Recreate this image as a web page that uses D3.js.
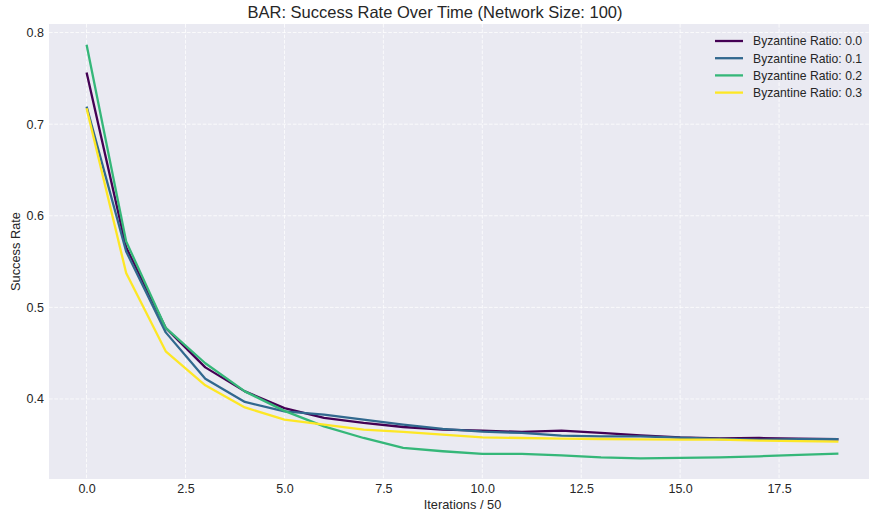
<!DOCTYPE html>
<html>
<head>
<meta charset="utf-8">
<script src="https://cdn.jsdelivr.net/npm/d3@7"></script>
<style>
  html, body { margin: 0; padding: 0; background: #ffffff; }
  svg { display: block; font-family: "Liberation Sans", Arial, sans-serif; }
</style>
</head>
<body>
<svg id="chart" width="869" height="512"></svg>
<script>
const iterations = d3.range(0, 20);
const seriesNames = ["Byzantine Ratio: 0.0", "Byzantine Ratio: 0.1", "Byzantine Ratio: 0.2", "Byzantine Ratio: 0.3"];
const ratio00 = [0.7563, 0.5655, 0.4775, 0.4345, 0.4083, 0.3900, 0.3793, 0.3738, 0.3694, 0.3665, 0.3654, 0.3640, 0.3654, 0.3629, 0.3603, 0.3581, 0.3570, 0.3574, 0.3567, 0.3560];
const ratio01 = [0.7192, 0.5610, 0.4727, 0.4220, 0.3967, 0.3865, 0.3829, 0.3774, 0.3720, 0.3673, 0.3643, 0.3629, 0.3600, 0.3592, 0.3592, 0.3578, 0.3563, 0.3556, 0.3560, 0.3560];
const ratio02 = [0.7868, 0.5720, 0.4775, 0.4390, 0.4083, 0.3870, 0.3700, 0.3574, 0.3465, 0.3429, 0.3400, 0.3400, 0.3385, 0.3363, 0.3352, 0.3356, 0.3363, 0.3374, 0.3389, 0.3403];
const ratio03 = [0.7174, 0.5375, 0.4520, 0.4149, 0.3908, 0.3774, 0.3720, 0.3665, 0.3640, 0.3610, 0.3581, 0.3574, 0.3567, 0.3563, 0.3558, 0.3556, 0.3556, 0.3545, 0.3540, 0.3534];
const xTicks = [0.0, 2.5, 5.0, 7.5, 10.0, 12.5, 15.0, 17.5];
const yTicks = [0.4, 0.5, 0.6, 0.7, 0.8];
const colors = ["#440154", "#31688e", "#35b779", "#fde725"];

const allSeries = [ratio00, ratio01, ratio02, ratio03];

const svg = d3.select("#chart");
const pL = 49, pR = 876, pT = 24, pB = 479;

const xMin = 0, xMax = 19, xPad = (xMax - xMin) * 0.05;
const x = d3.scaleLinear().domain([xMin - xPad, xMax + xPad]).range([pL, pR]);
const allVals = allSeries.flat();
const yLo = d3.min(allVals), yHi = d3.max(allVals), yPad = (yHi - yLo) * 0.05;
const y = d3.scaleLinear().domain([yLo - yPad, yHi + yPad]).range([pB, pT]);

// background
svg.append("rect").attr("x", pL).attr("y", pT)
  .attr("width", pR - pL).attr("height", pB - pT)
  .attr("fill", "#eaeaf2");

// grid
const grid = svg.append("g");
grid.selectAll("line.gx").data(xTicks).join("line")
  .attr("x1", d => x(d)).attr("x2", d => x(d))
  .attr("y1", pT).attr("y2", pB)
  .attr("stroke", "#ffffff").attr("stroke-width", 1)
  .attr("stroke-dasharray", "3.7,1.6").attr("opacity", 0.8);
grid.selectAll("line.gy").data(yTicks).join("line")
  .attr("x1", pL).attr("x2", pR)
  .attr("y1", d => y(d)).attr("y2", d => y(d))
  .attr("stroke", "#ffffff").attr("stroke-width", 1)
  .attr("stroke-dasharray", "3.7,1.6").attr("opacity", 0.8);

// axes
const xAxis = d3.axisBottom(x).tickValues(xTicks).tickFormat(d3.format(".1f")).tickSize(0).tickPadding(5);
const gx = svg.append("g").attr("transform", `translate(0,${pB})`).call(xAxis);
gx.select(".domain").remove();
gx.selectAll("text").attr("fill", "#262626").attr("font-size", 12.5).attr("font-family", "Liberation Sans, Arial, sans-serif");

const yAxis = d3.axisLeft(y).tickValues(yTicks).tickFormat(d3.format(".1f")).tickSize(0).tickPadding(5);
const gy = svg.append("g").attr("transform", `translate(${pL},0)`).call(yAxis);
gy.select(".domain").remove();
gy.selectAll("text").attr("fill", "#262626").attr("font-size", 12.5).attr("font-family", "Liberation Sans, Arial, sans-serif");

// lines
const line = d3.line().x((d, i) => x(iterations[i])).y(d => y(d));
svg.append("g").selectAll("path").data(allSeries).join("path")
  .attr("d", d => line(d))
  .attr("fill", "none")
  .attr("stroke", (d, i) => colors[i])
  .attr("stroke-width", 2.3)
  .attr("stroke-linejoin", "round");

// title & labels
svg.append("text").attr("x", 435).attr("y", 18).attr("text-anchor", "middle")
  .attr("font-size", 16.5).attr("fill", "#262626")
  .text("BAR: Success Rate Over Time (Network Size: 100)");
svg.append("text").attr("x", (pL + pR) / 2).attr("y", 509).attr("text-anchor", "middle")
  .attr("font-size", 12.8).attr("fill", "#262626").text("Iterations / 50");
svg.append("text").attr("transform", `translate(20,${(pT + pB) / 2}) rotate(-90)`)
  .attr("text-anchor", "middle").attr("font-size", 12.8).attr("fill", "#262626").text("Success Rate");

// legend
const lg = svg.append("g");
seriesNames.forEach((name, i) => {
  const yy = 41 + i * 17.2;
  lg.append("line").attr("x1", 715).attr("x2", 743).attr("y1", yy).attr("y2", yy)
    .attr("stroke", colors[i]).attr("stroke-width", 2.3);
  lg.append("text").attr("x", 753).attr("y", yy + 4.3).attr("font-size", 12.2)
    .attr("fill", "#262626").text(name);
});
</script>
</body>
</html>
